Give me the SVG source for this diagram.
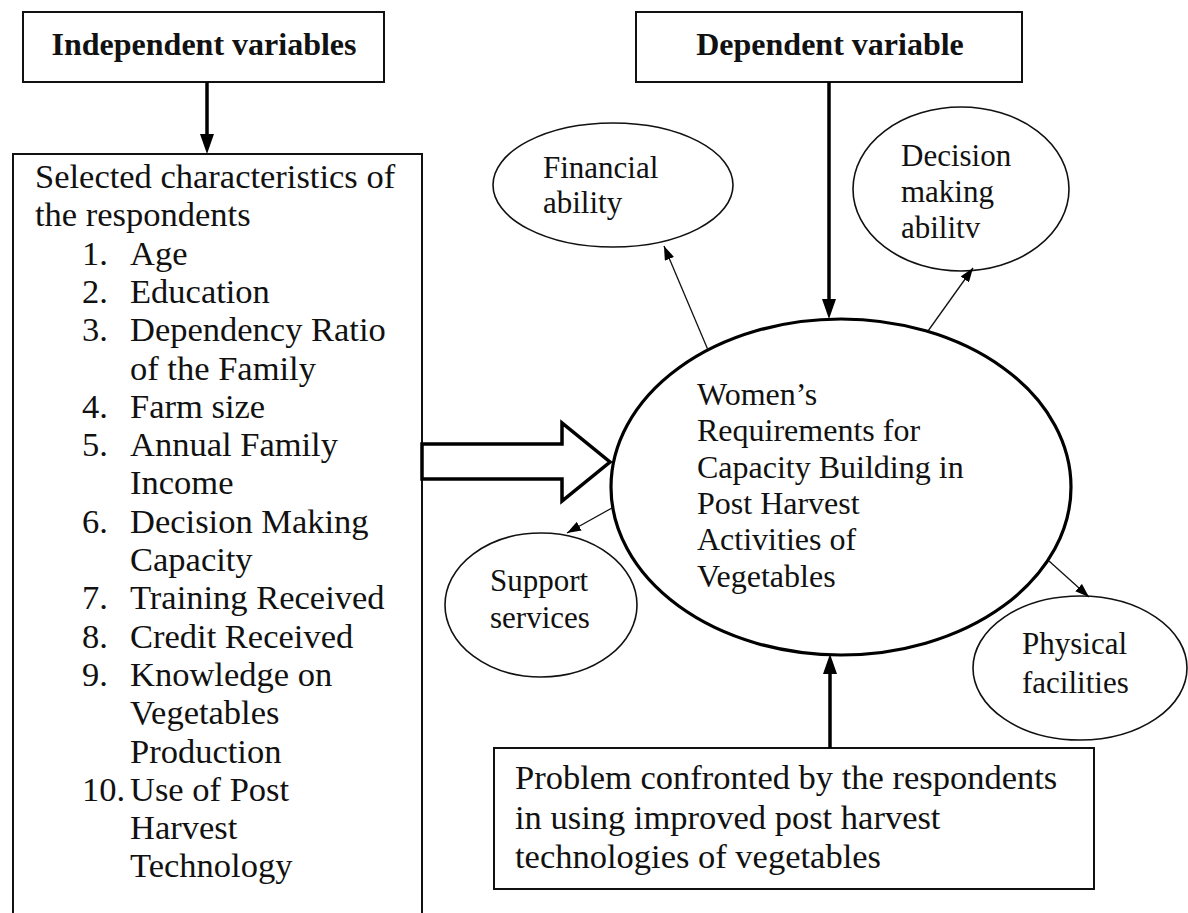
<svg xmlns="http://www.w3.org/2000/svg" width="1188" height="913" viewBox="0 0 1188 913">
<style>
.box{fill:#fff;stroke:#111;stroke-width:2}
.ell{fill:#fff;stroke:#111;stroke-width:1.6}
.main{fill:#fff;stroke:#000;stroke-width:3.2}
.hdr{font-family:"Liberation Serif","Times New Roman",serif;font-weight:bold;font-size:32px;fill:#111}
.t34{font-family:"Liberation Serif","Times New Roman",serif;font-size:34.5px;fill:#111}
.t32{font-family:"Liberation Serif","Times New Roman",serif;font-size:32px;fill:#111}
.t31{font-family:"Liberation Serif","Times New Roman",serif;font-size:31px;fill:#111}
.thick{stroke:#000;stroke-width:3.5;fill:none}
.thin{stroke:#111;stroke-width:1.3;fill:none;marker-end:url(#hd)}
.head{fill:#000}
.hollow{fill:#fff;stroke:#000;stroke-width:3.5;stroke-linejoin:miter}
</style>
<defs>
<marker id="hd" viewBox="0 0 14 10" refX="14" refY="5" markerWidth="14" markerHeight="10" markerUnits="userSpaceOnUse" orient="auto"><path d="M0,0 L14,5 L0,10 z" fill="#000"/></marker>
</defs>
<rect width="1188" height="913" fill="#fff"/>

<g id="indep-header">
<rect class="box" x="23" y="12" width="361" height="70"/>
<text class="hdr" x="204" y="55" text-anchor="middle">Independent variables</text>
</g>

<g id="dep-header">
<rect class="box" x="636" y="12" width="386" height="70"/>
<text class="hdr" x="830" y="55" text-anchor="middle">Dependent variable</text>
</g>

<g id="characteristics">
<rect class="box" x="13" y="154" width="409" height="780"/>
<text class="t34" x="35" y="188">Selected characteristics of</text>
<text class="t34" x="35" y="226.3">the respondents</text>
<text class="t34" x="82" y="264.6">1.</text><text class="t34" x="130" y="264.6">Age</text>
<text class="t34" x="82" y="302.9">2.</text><text class="t34" x="130" y="302.9">Education</text>
<text class="t34" x="82" y="341.2">3.</text><text class="t34" x="130" y="341.2">Dependency Ratio</text>
<text class="t34" x="130" y="379.5">of the Family</text>
<text class="t34" x="82" y="417.8">4.</text><text class="t34" x="130" y="417.8">Farm size</text>
<text class="t34" x="82" y="456.1">5.</text><text class="t34" x="130" y="456.1">Annual Family</text>
<text class="t34" x="130" y="494.4">Income</text>
<text class="t34" x="82" y="532.7">6.</text><text class="t34" x="130" y="532.7">Decision Making</text>
<text class="t34" x="130" y="571">Capacity</text>
<text class="t34" x="82" y="609.3">7.</text><text class="t34" x="130" y="609.3">Training Received</text>
<text class="t34" x="82" y="647.6">8.</text><text class="t34" x="130" y="647.6">Credit Received</text>
<text class="t34" x="82" y="685.9">9.</text><text class="t34" x="130" y="685.9">Knowledge on</text>
<text class="t34" x="130" y="724.2">Vegetables</text>
<text class="t34" x="130" y="762.5">Production</text>
<text class="t34" x="82" y="800.8">10.</text><text class="t34" x="130" y="800.8">Use of Post</text>
<text class="t34" x="130" y="839.1">Harvest</text>
<text class="t34" x="130" y="877.4">Technology</text>
</g>

<g id="central">
<ellipse class="main" cx="841" cy="487" rx="230" ry="168"/>
<text class="t32" x="697" y="405">Women’s</text>
<text class="t32" x="697" y="441">Requirements for</text>
<text class="t32" x="697" y="478">Capacity Building in</text>
<text class="t32" x="697" y="514">Post Harvest</text>
<text class="t32" x="697" y="550">Activities of</text>
<text class="t32" x="697" y="587">Vegetables</text>
</g>

<g id="financial">
<ellipse class="ell" cx="613" cy="185" rx="120" ry="62"/>
<text class="t31" x="543" y="178">Financial</text>
<text class="t31" x="543" y="213">ability</text>
</g>

<g id="decision">
<ellipse class="ell" cx="961" cy="189" rx="108" ry="82"/>
<text class="t31" x="901" y="166">Decision</text>
<text class="t31" x="901" y="202">making</text>
<text class="t31" x="901" y="238">abilitv</text>
</g>

<g id="support">
<ellipse class="ell" cx="541" cy="605" rx="96" ry="72"/>
<text class="t31" x="490" y="591">Support</text>
<text class="t31" x="490" y="628">services</text>
</g>

<g id="physical">
<ellipse class="ell" cx="1080" cy="668" rx="107" ry="72"/>
<text class="t31" x="1022" y="654">Physical</text>
<text class="t31" x="1022" y="693">facilities</text>
</g>

<g id="problem">
<rect class="box" x="494" y="748" width="600" height="141"/>
<text class="t34" x="515" y="789">Problem confronted by the respondents</text>
<text class="t34" x="515" y="829">in using improved post harvest</text>
<text class="t34" x="515" y="868">technologies of vegetables</text>
</g>

<g id="connectors">
<line class="thick" x1="207" y1="82" x2="207" y2="138"/>
<polygon class="head" points="200,134 214,134 207,154"/>
<line class="thick" x1="829" y1="82" x2="829" y2="303"/>
<polygon class="head" points="822,299 836,299 829,319"/>
<line class="thick" x1="830" y1="748" x2="830" y2="670"/>
<polygon class="head" points="823,674 837,674 830,654"/>
<polygon class="hollow" points="422,444 562,444 562,423 610,462 562,501 562,479 422,479"/>
<line class="thin" x1="708" y1="350" x2="664" y2="246"/>
<line class="thin" x1="928" y1="331" x2="973" y2="268"/>
<line class="thin" x1="612" y1="508" x2="567" y2="533"/>
<line class="thin" x1="1049" y1="561" x2="1089" y2="597"/>
</g>
</svg>
